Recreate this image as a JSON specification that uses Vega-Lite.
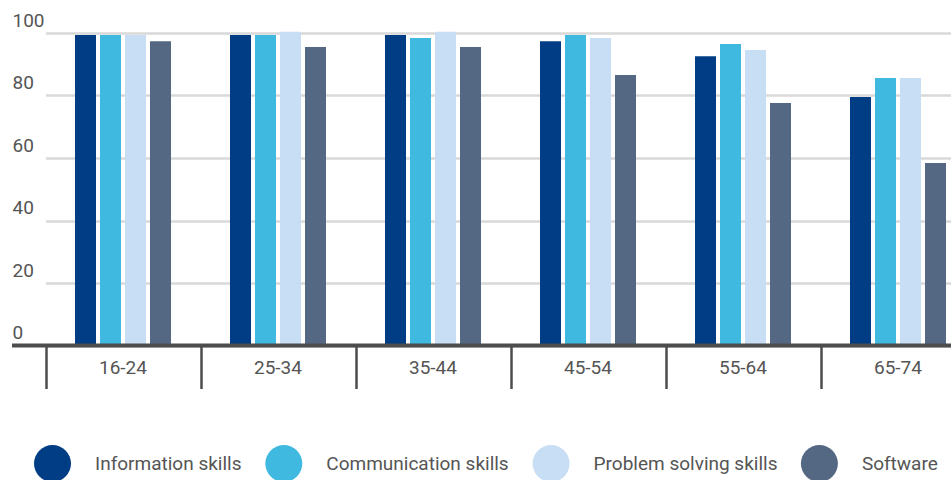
{
  "$schema": "https://vega.github.io/schema/vega-lite/v6.json",
  "width": 939,
  "height": 312.5,
  "autosize": {"type": "none"},
  "padding": {"left": 12, "top": 33, "right": 0, "bottom": 134.5},
  "config": {"view": {"stroke": null}, "font": "Roboto"},
  "data": {
    "values": [
      {"age": "16-24", "skill": "Information skills", "value": 99.4},
      {"age": "16-24", "skill": "Communication skills", "value": 99.4},
      {"age": "16-24", "skill": "Problem solving skills", "value": 99.4},
      {"age": "16-24", "skill": "Software", "value": 97.4},
      {"age": "25-34", "skill": "Information skills", "value": 99.4},
      {"age": "25-34", "skill": "Communication skills", "value": 99.4},
      {"age": "25-34", "skill": "Problem solving skills", "value": 100.4},
      {"age": "25-34", "skill": "Software", "value": 95.5},
      {"age": "35-44", "skill": "Information skills", "value": 99.4},
      {"age": "35-44", "skill": "Communication skills", "value": 98.4},
      {"age": "35-44", "skill": "Problem solving skills", "value": 100.4},
      {"age": "35-44", "skill": "Software", "value": 95.5},
      {"age": "45-54", "skill": "Information skills", "value": 97.4},
      {"age": "45-54", "skill": "Communication skills", "value": 99.4},
      {"age": "45-54", "skill": "Problem solving skills", "value": 98.4},
      {"age": "45-54", "skill": "Software", "value": 86.6},
      {"age": "55-64", "skill": "Information skills", "value": 92.6},
      {"age": "55-64", "skill": "Communication skills", "value": 96.5},
      {"age": "55-64", "skill": "Problem solving skills", "value": 94.6},
      {"age": "55-64", "skill": "Software", "value": 77.6},
      {"age": "65-74", "skill": "Information skills", "value": 79.5},
      {"age": "65-74", "skill": "Communication skills", "value": 85.6},
      {"age": "65-74", "skill": "Problem solving skills", "value": 85.6},
      {"age": "65-74", "skill": "Software", "value": 58.4}
    ]
  },
  "layer": [
    {
      "mark": {"type": "bar"},
      "encoding": {
        "x": {
          "field": "age",
          "type": "nominal",
          "sort": ["16-24", "25-34", "35-44", "45-54", "55-64", "65-74"],
          "scale": {"range": [33.5, 963.5], "paddingInner": 0.058, "paddingOuter": 0.029},
          "axis": {
            "title": null,
            "domain": false,
            "ticks": true,
            "tickSize": 43,
            "tickWidth": 2.5,
            "tickColor": "#4d4d4d",
            "bandPosition": -0.024,
            "grid": false,
            "labelAngle": 0,
            "labelFontSize": 19,
            "labelColor": "#555555",
            "labelBaseline": "alphabetic",
            "labelPadding": -15
          }
        },
        "xOffset": {
          "field": "skill",
          "type": "nominal",
          "sort": ["Information skills", "Communication skills", "Problem solving skills", "Software"],
          "scale": {"paddingInner": 0.16, "paddingOuter": 1}
        },
        "y": {
          "field": "value",
          "type": "quantitative",
          "scale": {"domain": [0, 100], "nice": false},
          "axis": {
            "title": null,
            "domain": false,
            "ticks": false,
            "grid": true,
            "gridColor": "#d9d9d9",
            "gridWidth": 2.5,
            "values": [0, 20, 40, 60, 80, 100],
            "labelAlign": "left",
            "labelBaseline": "alphabetic",
            "labelPadding": 0,
            "labelOffset": -7,
            "labelFontSize": 19,
            "labelColor": "#555555"
          }
        },
        "color": {
          "field": "skill",
          "type": "nominal",
          "sort": ["Information skills", "Communication skills", "Problem solving skills", "Software"],
          "scale": {
            "domain": ["Information skills", "Communication skills", "Problem solving skills", "Software"],
            "range": ["#003d85", "#40b9e1", "#c7def5", "#546884"]
          },
          "legend": {
            "orient": "none",
            "legendX": 22,
            "legendY": 412,
            "direction": "horizontal",
            "title": null,
            "symbolType": "circle",
            "symbolSize": 1369,
            "symbolStrokeWidth": 0,
            "symbolOpacity": 1,
            "labelFontSize": 19,
            "labelColor": "#555555",
            "labelOffset": 24,
            "columnPadding": 23.3,
            "padding": 0,
            "labelLimit": 300
          }
        }
      }
    },
    {
      "data": {"values": [{"v": 0}]},
      "mark": {"type": "rule", "color": "#4d4d4d", "strokeWidth": 4},
      "encoding": {"y": {"field": "v", "type": "quantitative"}}
    }
  ]
}
